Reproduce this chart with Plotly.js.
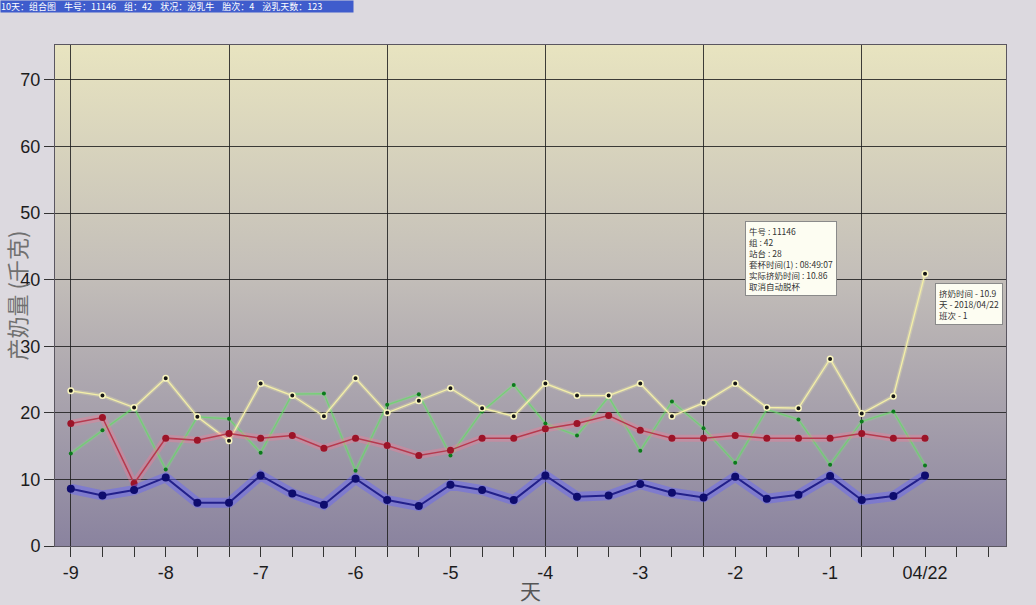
<!DOCTYPE html>
<html>
<head>
<meta charset="utf-8">
<script src="https://cdn.plot.ly/plotly-3.0.1.min.js"></script>
<style>
html,body{margin:0;padding:0;background:#dcd9df;}
#chart{width:1036px;height:605px;}
</style>
</head>
<body>
<div id="chart"></div>
<script>
// x positions: one per milking (3 per day), day labels every 3rd tick
const tickIndex = [0,1,2,3,4,5,6,7,8,9,10,11,12,13,14,15,16,17,18,19,20,21,22,23,24,25,26,27,28,29];
const dayLabels = {0:'-9',3:'-8',6:'-7',9:'-6',12:'-5',15:'-4',18:'-3',21:'-2',24:'-1',27:'04/22'};
const gridIndex = [0,5,10,15,20,25];
const pointIndex = [0,1,2,3,4,5,6,7,8,9,10,11,12,13,14,15,16,17,18,19,20,21,22,23,24,25,26,27];

const yellowSeries = [23.3,22.6,20.8,25.2,19.4,15.8,24.4,22.6,19.5,25.2,20.0,21.8,23.7,20.7,19.5,24.4,22.6,22.6,24.4,19.5,21.5,24.4,20.8,20.7,28.1,19.9,22.5,40.9];
const greenSeries  = [13.9,17.4,20.8,11.5,19.4,19.1,14.0,22.8,22.9,11.3,21.2,22.8,13.6,20.2,24.2,18.4,16.6,22.4,14.3,21.7,17.7,12.5,20.5,19.0,12.2,18.7,20.2,12.1];
const redSeries    = [18.4,19.3,9.4,16.2,15.9,16.9,16.2,16.6,14.7,16.2,15.1,13.6,14.4,16.2,16.2,17.6,18.4,19.6,17.4,16.2,16.2,16.6,16.2,16.2,16.2,16.9,16.2,16.2];
const blueSeries   = [8.6,7.6,8.4,10.3,6.5,6.5,10.6,7.9,6.2,10.1,6.9,6.0,9.2,8.4,6.9,10.6,7.4,7.6,9.3,8.0,7.3,10.4,7.1,7.7,10.5,6.9,7.5,10.6];

const headerText = '10天：组合图\u00a0\u00a0\u00a0\u00a0牛号：11146\u00a0\u00a0\u00a0\u00a0组：42\u00a0\u00a0\u00a0\u00a0状况：泌乳牛\u00a0\u00a0\u00a0\u00a0胎次：4\u00a0\u00a0\u00a0\u00a0泌乳天数：123';
const tip1Lines = ['牛号 : 11146','组 : 42','站台 : 28','套杯时间(1) : 08:49:07','实际挤奶时间 : 10.86','取消自动脱杯'];
const tip2Lines = ['挤奶时间 - 10.9','天 - 2018/04/22','班次 - 1'];
const yTitle = '产奶量 (千克)';
const xTitle = '天';

const tickText = tickIndex.map(i => dayLabels[i] !== undefined ? dayLabels[i] : '');

function glow(y, color, width){
  return {x: pointIndex, y: y, mode:'lines', line:{color:color, width:width, shape:'linear'}, hoverinfo:'skip', showlegend:false};
}

const traces = [
  {x:[], y:[], xaxis:'x2', showlegend:false, hoverinfo:'skip'},
  glow(greenSeries, 'rgba(120,255,120,0.18)', 4),
  {x: pointIndex, y: greenSeries, mode:'lines+markers', line:{color:'rgba(95,225,95,0.7)', width:1.2},
   marker:{color:'#0c7a1c', size:4}, showlegend:false},
  glow(yellowSeries, 'rgba(255,255,170,0.25)', 4),
  {x: pointIndex, y: yellowSeries, mode:'lines+markers', line:{color:'#f4efa8', width:1.3},
   marker:{color:'#151515', size:5.5, line:{color:'#fbf7c0', width:1.5}}, showlegend:false},
  glow(redSeries, 'rgba(255,120,150,0.35)', 7),
  {x: pointIndex, y: redSeries, mode:'lines+markers', line:{color:'#b63a4e', width:1.5},
   marker:{color:'#9c1428', size:7}, showlegend:false},
  glow(blueSeries, 'rgba(100,100,255,0.45)', 10),
  {x: pointIndex, y: blueSeries, mode:'lines+markers', line:{color:'#22208a', width:2},
   marker:{color:'#0e0c6e', size:8}, showlegend:false}
];

const gradSvg = '<svg xmlns="http://www.w3.org/2000/svg" width="100" height="100" preserveAspectRatio="none">' +
  '<defs><linearGradient id="g" x1="0" y1="0" x2="0" y2="1">' +
  '<stop offset="0" stop-color="#e8e4c0"/><stop offset="0.45" stop-color="#c4bfb9"/>' +
  '<stop offset="1" stop-color="#8a839f"/></linearGradient></defs>' +
  '<rect width="100" height="100" fill="url(#g)"/></svg>';
const gradSrc = 'data:image/svg+xml;charset=utf-8,' + encodeURIComponent(gradSvg);

const L = 55, R = 30, T = 45, B = 59;
const W = 1036 - L - R, H = 605 - T - B;
const px = v => (v - L) / W;
const py = v => (605 - B - v) / H;

const layout = {
  width:1036, height:605,
  margin:{l:L, r:R, t:T, b:B, pad:0},
  paper_bgcolor:'#dcd9df',
  plot_bgcolor:'rgba(0,0,0,0)',
  font:{family:'Liberation Sans, Arial, sans-serif', color:'#1c1c1c'},
  showlegend:false,
  hovermode:false,
  xaxis:{
    range:[-0.5, 29.56], tickmode:'array', tickvals:tickIndex, ticktext:tickText,
    ticks:'outside', ticklen:10, tickwidth:1, tickcolor:'#333',
    tickfont:{size:18, color:'#1c1c1c', family:'Liberation Sans, Arial, sans-serif'},
    showgrid:false, zeroline:false, showline:true, mirror:true, linecolor:'#5a5660', linewidth:1,
    title:{text:xTitle, font:{size:21, color:'#555', family:'Noto Sans CJK SC'}, standoff:20},
    automargin:false,
    fixedrange:true
  },
  xaxis2:{
    overlaying:'x', range:[-0.5, 29.56], tickmode:'array', tickvals:gridIndex,
    showticklabels:false, ticks:'', showgrid:true, gridcolor:'rgba(30,30,30,0.85)', gridwidth:1,
    zeroline:false, showline:false, side:'bottom'
  },
  yaxis:{
    range:[0, 75.25], tickmode:'linear', tick0:0, dtick:10,
    ticks:'outside', ticklen:10, tickwidth:1, tickcolor:'#333',
    tickfont:{size:18, color:'#1c1c1c', family:'Liberation Sans, Arial, sans-serif'},
    showgrid:true, gridcolor:'rgba(30,30,30,0.85)', gridwidth:1,
    zeroline:false, showline:true, mirror:true, linecolor:'#5a5660', linewidth:1,
    title:{text:yTitle, font:{size:22, color:'#707070', family:'Noto Sans CJK SC'}, standoff:2},
    automargin:false,
    fixedrange:true
  },
  images:[{source:gradSrc, xref:'paper', yref:'paper', x:0, y:1, sizex:1, sizey:1,
           sizing:'stretch', xanchor:'left', yanchor:'top', layer:'below'}],
  annotations:[
    {text:headerText, xref:'paper', yref:'paper', x:px(0), y:py(0), xanchor:'left', yanchor:'top',
     showarrow:false, align:'left', bgcolor:'#3f5ccc', width:352, height:11, borderpad:0,
     font:{size:9, color:'#ffffff', family:'Noto Sans CJK SC'}},
    {text:tip1Lines.join('<br>'), xref:'paper', yref:'paper', x:px(745), y:py(221), xanchor:'left', yanchor:'top',
     showarrow:false, align:'left', bgcolor:'#fdfdf2', bordercolor:'#8a8a8a', borderwidth:1, borderpad:3,
     font:{size:8.5, color:'#333', family:'Noto Sans CJK SC'}},
    {text:tip2Lines.join('<br>'), xref:'paper', yref:'paper', x:px(935), y:py(283), xanchor:'left', yanchor:'top',
     showarrow:false, align:'left', bgcolor:'#fdfdf2', bordercolor:'#8a8a8a', borderwidth:1, borderpad:3,
     font:{size:8.5, color:'#333', family:'Noto Sans CJK SC'}}
  ]
};

Plotly.newPlot('chart', traces, layout, {displayModeBar:false, staticPlot:true});
</script>
</body>
</html>
